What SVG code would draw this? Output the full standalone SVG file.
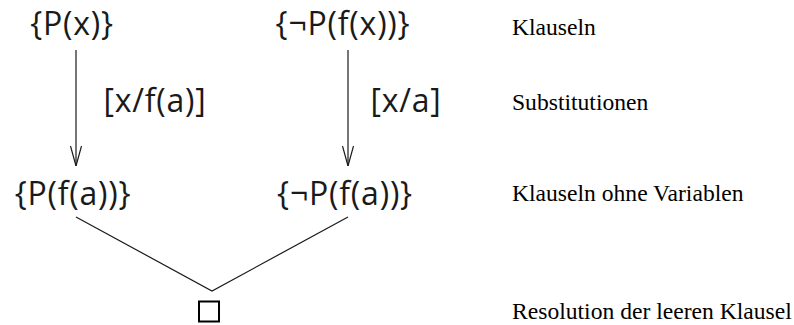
<svg xmlns="http://www.w3.org/2000/svg" width="794" height="325" viewBox="0 0 794 325">
<style>
.m{font-family:"Open Sans","Noto Sans",sans-serif;font-size:32px;fill:#1a1a1a;letter-spacing:0.8px}
.l{font-family:"Liberation Serif","Times New Roman",serif;font-size:23.6px;fill:#000}
.c{stroke:#1a1a1a;stroke-width:1.2;fill:none}
</style>
<defs>
<marker id="ah" viewBox="0 0 20 12" refX="20" refY="6" markerWidth="20" markerHeight="12" markerUnits="userSpaceOnUse" orient="auto">
<path d="M0,0.5 L20,6 L0,11.5" fill="none" stroke="#1a1a1a" stroke-width="1.2"/>
</marker>
</defs>
<rect width="794" height="325" fill="#fff"/>
<g id="connectors">
<line class="c" x1="76" y1="50" x2="76" y2="166" marker-end="url(#ah)"/>
<line class="c" x1="348" y1="50" x2="348" y2="166" marker-end="url(#ah)"/>
<polyline class="c" points="76,217 212,291 348,217"/>
</g>
<g id="n1"><text class="m" x="72" y="35" text-anchor="middle">{P(x)}</text></g>
<g id="n2"><text class="m" x="343" y="35" text-anchor="middle">{¬P(f(x))}</text></g>
<g id="s1"><text class="m" x="155" y="112" text-anchor="middle">[x/f(a)]</text></g>
<g id="s2"><text class="m" x="406" y="112" text-anchor="middle">[x/a]</text></g>
<g id="n3"><text class="m" x="73" y="205" text-anchor="middle">{P(f(a))}</text></g>
<g id="n4"><text class="m" x="345" y="205" text-anchor="middle">{¬P(f(a))}</text></g>
<g id="n5"><rect x="199" y="301.5" width="20" height="20" fill="none" stroke="#000" stroke-width="2"/></g>
<g id="labels">
<text class="l" x="512" y="35">Klauseln</text>
<text class="l" x="512" y="110">Substitutionen</text>
<text class="l" x="512" y="201">Klauseln ohne Variablen</text>
<text class="l" x="512" y="319">Resolution der leeren Klausel</text>
</g>
</svg>
